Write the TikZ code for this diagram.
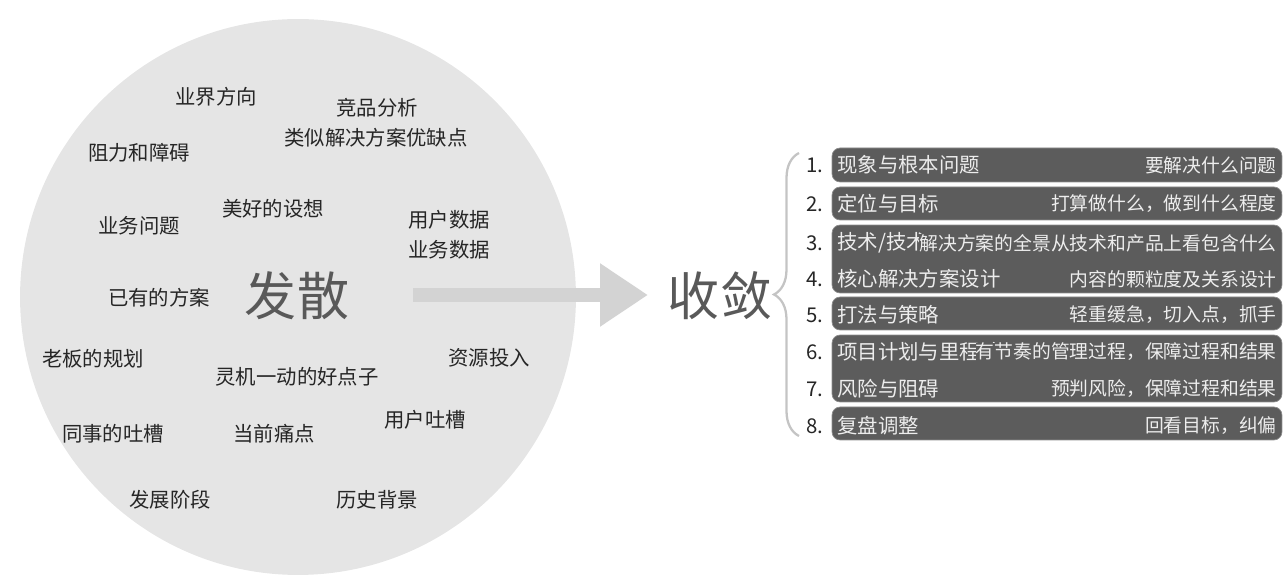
\documentclass[tikz,border=0pt]{standalone}
\usepackage{fontspec}
\setmainfont{Noto Sans CJK SC}
\usepackage{xcolor}
\usepackage{tikz}
\usetikzlibrary{arrows.meta,decorations.pathreplacing}

\definecolor{bubblegray}{HTML}{E5E5E5}
\definecolor{arrowgray}{HTML}{D3D3D3}
\definecolor{bracegray}{HTML}{C4C4C4}
\definecolor{boxgray}{HTML}{5C5C5C}
\definecolor{inkgray}{HTML}{262626}
\definecolor{biggray}{HTML}{595959}

\begin{document}
\begin{tikzpicture}[x=0.02cm,y=-0.02cm,
  idea/.style={font=\fontsize{11.6}{13}\selectfont,text=inkgray,inner sep=0pt},
  big/.style={font=\fontsize{29.6}{32}\selectfont,text=biggray,inner sep=0pt},
  rowbox/.style={fill=boxgray,draw=boxgray!70!white,rounded corners=0.16cm,minimum width=9cm,inner sep=0pt},
  num/.style={font=\fontsize{11.6}{13}\selectfont,text=inkgray,anchor=east,inner sep=0pt},
  lefttxt/.style={font=\fontsize{11.6}{13}\selectfont,text=white!93!black,anchor=west,inner sep=0pt},
  righttxt/.style={font=\fontsize{10.7}{12}\selectfont,text=white!93!black,fill=boxgray,anchor=east,inner sep=0pt}
]
\useasboundingbox (0,0) rectangle (1286,580);

% diverge
\node[circle,fill=bubblegray,minimum size=11.12cm,inner sep=0pt] (bubble) at (298,297) {};

\node[idea] (trend) at (216,97) {业界方向};
\node[idea] (rival) at (377,108) {竞品分析};
\node[idea] (similar) at (376,138) {类似解决方案优缺点};
\node[idea] (block) at (139,153) {阻力和障碍};
\node[idea] (dream) at (273,209) {美好的设想};
\node[idea] (bizq) at (139,226) {业务问题};
\node[idea] (userdata) at (449,220) {用户数据};
\node[idea] (bizdata) at (449,250) {业务数据};
\node[idea] (existing) at (159,298) {已有的方案};
\node[big] (diverge) at (297,296) {发散};
\node[idea] (bossplan) at (93,359) {老板的规划};
\node[idea] (spark) at (297,377) {灵机一动的好点子};
\node[idea] (invest) at (489,358) {资源投入};
\node[idea] (mates) at (113,434) {同事的吐槽};
\node[idea] (pain) at (274,434) {当前痛点};
\node[idea] (usercomp) at (425,420) {用户吐槽};
\node[idea] (stage) at (170,500) {发展阶段};
\node[idea] (history) at (377,500) {历史背景};

% arrow
\coordinate (arrowstart) at (413,295);
\coordinate (arrowend) at (648,295);
\draw[arrowgray,line width=0.28cm,-{Triangle[length=0.96cm,width=1.2cm]}] (arrowstart) -- (arrowend);

% converge
\node[big] (converge) at (720,296) {收敛};

\coordinate (bracebot) at (799,436);
\coordinate (bracetop) at (799,153);
\draw[bracegray,line width=1.3pt,decorate,decoration={brace,amplitude=0.5cm}] (bracebot) -- (bracetop);

\node[rowbox,minimum height=0.68cm] (box1) at (1057,165) {};
\node[rowbox,minimum height=0.66cm] (box2) at (1057,203.5) {};
\node[rowbox,minimum height=1.36cm] (box3) at (1057,259) {};
\node[rowbox,minimum height=0.66cm] (box5) at (1057,313.5) {};
\node[rowbox,minimum height=1.34cm] (box6) at (1057,368.5) {};
\node[rowbox,minimum height=0.66cm] (box8) at (1057,423.5) {};

\node[num] (n1) at (824,165) {1.};
\node[num] (n2) at (824,204) {2.};
\node[num] (n3) at (824,243) {3.};
\node[num] (n4) at (824,279) {4.};
\node[num] (n5) at (824,315) {5.};
\node[num] (n6) at (824,352) {6.};
\node[num] (n7) at (824,389) {7.};
\node[num] (n8) at (824,426) {8.};

\node[lefttxt] (l1) at (837,165) {现象与根本问题};
\node[lefttxt] (l2) at (837,204) {定位与目标};
\node[lefttxt] (l3) at (837,243) {技术/技术};
\node[lefttxt] (l4) at (837,279) {核心解决方案设计};
\node[lefttxt] (l5) at (837,315) {打法与策略};
\node[lefttxt] (l6) at (837,352) {项目计划与里程碑};
\node[lefttxt] (l7) at (837,389) {风险与阻碍};
\node[lefttxt] (l8) at (837,426) {复盘调整};

\node[righttxt] (r1) at (1277,165) {要解决什么问题};
\node[righttxt] (r2) at (1277,204) {打算做什么，做到什么程度};
\node[righttxt] (r3) at (1277,243) {解决方案的全景从技术和产品上看包含什么};
\node[righttxt] (r4) at (1277,279) {内容的颗粒度及关系设计};
\node[righttxt] (r5) at (1277,315) {轻重缓急，切入点，抓手};
\node[righttxt] (r6) at (1277,352) {有节奏的管理过程，保障过程和结果};
\node[righttxt] (r7) at (1277,389) {预判风险，保障过程和结果};
\node[righttxt] (r8) at (1277,426) {回看目标，纠偏};
\end{tikzpicture}
\end{document}
